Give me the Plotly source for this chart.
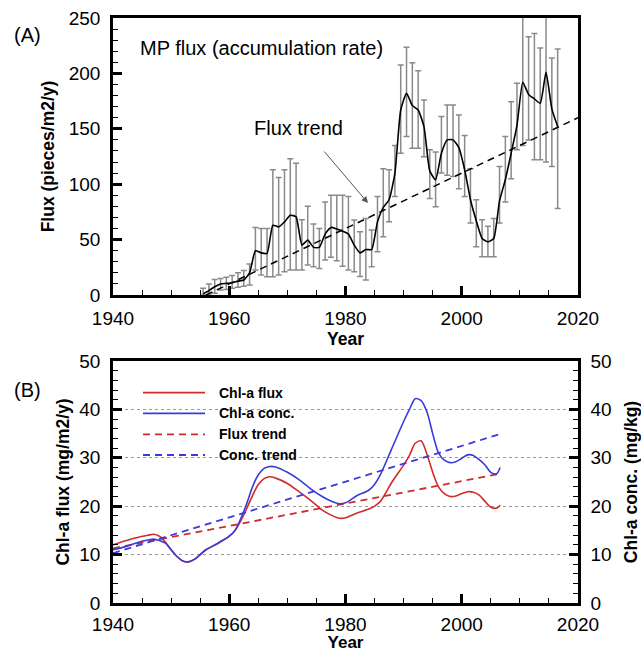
import plotly.graph_objects as go

# ---------------- Panel A data: MP flux ----------------
mp_year = [1955.5, 1956.5, 1957.5, 1958.5, 1959.5, 1960.5, 1961.5, 1962.5, 1963.5, 1964.5,
           1965.5, 1966.5, 1967.5, 1968.5, 1969.5, 1970.5, 1971.5, 1972.5, 1973.5, 1974.5,
           1975.5, 1976.5, 1977.5, 1978.5, 1979.5, 1980.5, 1981.5, 1982.5, 1983.5, 1984.5,
           1985.5, 1986.5, 1987.5, 1988.5, 1989.5, 1990.5, 1991.5, 1992.5, 1993.5, 1994.5,
           1995.5, 1996.5, 1997.5, 1998.5, 1999.5, 2000.5, 2001.5, 2002.5, 2003.5, 2004.5,
           2005.5, 2006.5, 2007.5, 2008.5, 2009.5, 2010.5, 2011.5, 2012.5, 2013.5, 2014.5,
           2015.5, 2016.5]
mp_flux = [1, 4, 7.5, 10, 10.5, 11, 12.5, 13.5, 20, 40,
           38, 37.5, 63, 61.5, 66, 72, 70.5, 45, 49.5, 43,
           43, 55, 61, 59.5, 57.5, 55, 45, 38, 41, 41,
           66, 79, 86, 110, 167, 182, 171, 167, 152, 112,
           104, 128, 140, 140, 133, 113, 86, 67, 51, 48,
           51, 85, 104, 128, 153, 192, 181, 177, 173, 201,
           168, 152]
mp_upper = [6, 10, 14, 15, 16, 17.5, 20, 22, 28, 61,
            60, 60, 113, 106, 113, 123, 119, 68, 80, 64,
            60, 84, 90, 90, 90, 89, 67.7, 57, 69, 58.7,
            89, 114, 113, 135, 207.6, 223.5, 209.7, 202.5, 176, 131,
            129, 161, 171.5, 171.5, 162.5, 144, 114, 86, 68, 62,
            69, 116, 143, 174.5, 191, 260, 233, 236, 223, 282,
            214, 222]
mp_lower = [0, 0, 1.5, 4.5, 5, 6, 7, 8, 9, 22.6,
            18, 16.5, 16.5, 18, 21, 22.6, 22.6, 22.6, 27, 25.6,
            24, 31.6, 34, 31, 26, 22.6, 21, 16.6, 13.5, 25.6,
            39, 52.6, 66, 89, 128, 143, 132.4, 132.4, 124.8, 87,
            79.7, 110, 108, 107, 96, 89, 65, 43.6, 34.6, 34.6,
            34.6, 65, 84, 105, 131, 135, 140, 122, 122, 120,
            116, 78]
mp_trend_year = [1956, 2020]
mp_trend = [0, 160]

# ---------------- Panel B data: Chl-a ----------------
chl_year = [1940, 1942, 1944, 1946, 1947, 1948, 1949, 1950, 1951, 1952,
            1953, 1954, 1955, 1956, 1958, 1960, 1961, 1962, 1963, 1964,
            1965, 1966, 1967, 1968, 1970, 1972, 1974, 1976, 1978, 1979,
            1980, 1982, 1984, 1985, 1986, 1988, 1990, 1991, 1992, 1993,
            1994, 1995, 1996, 1997, 1998, 1999, 2000, 2001, 2002, 2003,
            2004, 2005, 2006, 2006.6]
chl_flux = [12.0, 12.8, 13.5, 14.0, 14.2, 13.8, 12.6, 11.0, 9.6, 8.7,
            8.5, 9.0, 10.0, 11.0, 12.3, 13.8, 15.0, 17.0, 19.5, 22.2,
            24.5, 25.7, 26.1, 25.8, 24.7, 23.0, 21.2, 19.2, 17.9, 17.5,
            17.6, 18.6, 19.4, 20.0, 21.0, 25.0, 28.5, 30.5, 33.0, 33.5,
            30.8, 27.0, 24.0, 22.6, 22.0, 22.1, 22.6, 23.0, 22.9, 22.3,
            21.0, 19.8, 19.6, 20.2]
chl_conc = [11.0, 11.6, 12.4, 13.0, 13.2, 12.9, 12.4, 11.0, 9.6, 8.7,
            8.5, 9.0, 10.0, 11.0, 12.3, 13.8, 15.0, 17.5, 20.5, 24.0,
            26.5, 27.8, 28.2, 28.1, 27.0, 25.5, 23.6, 22.0, 20.8, 20.5,
            20.7, 22.2, 23.3, 24.5, 26.5, 32.0, 37.5, 40.0, 42.2, 41.8,
            39.5, 35.0, 31.0, 29.5, 29.0, 29.2, 29.9, 30.6, 30.5, 29.6,
            28.5, 27.0, 26.7, 28.0]
chl_trend_year = [1940, 2006.6]
flux_trend = [11.3, 26.7]
conc_trend = [10.3, 34.9]

x_ticks = [1940, 1960, 1980, 2000, 2020]
legend_labels = ["Chl-a flux", "Chl-a conc.", "Flux trend", "Conc. trend"]

RED = "#d22b2b"
BLUE = "#3b3bd9"
FONT = "Arial, Liberation Sans, Helvetica, sans-serif"
W, H = 641, 652

err_plus = [u - v for u, v in zip(mp_upper, mp_flux)]
err_minus = [v - l for v, l in zip(mp_flux, mp_lower)]

fig = go.Figure()

# Panel A
fig.add_trace(go.Scatter(
    x=mp_year, y=mp_flux, mode="lines", xaxis="x", yaxis="y",
    line=dict(color="black", width=1.6, shape="spline", smoothing=0.5),
    error_y=dict(type="data", symmetric=False, array=err_plus, arrayminus=err_minus,
                 color="#8a8a8a", thickness=1.5, width=3),
    showlegend=False))
fig.add_trace(go.Scatter(
    x=mp_trend_year, y=mp_trend, mode="lines", xaxis="x", yaxis="y",
    line=dict(color="black", width=1.5, dash="7px,5px"), showlegend=False))

# Panel B
fig.add_trace(go.Scatter(
    x=chl_year, y=chl_flux, mode="lines", xaxis="x2", yaxis="y2",
    line=dict(color=RED, width=1.6, shape="spline", smoothing=0.8),
    name=legend_labels[0], showlegend=False))
fig.add_trace(go.Scatter(
    x=chl_year, y=chl_conc, mode="lines", xaxis="x2", yaxis="y3",
    line=dict(color=BLUE, width=1.6, shape="spline", smoothing=0.8),
    name=legend_labels[1], showlegend=False))
fig.add_trace(go.Scatter(
    x=chl_trend_year, y=flux_trend, mode="lines", xaxis="x2", yaxis="y2",
    line=dict(color=RED, width=1.8, dash="7px,5px"),
    name=legend_labels[2], showlegend=False))
fig.add_trace(go.Scatter(
    x=chl_trend_year, y=conc_trend, mode="lines", xaxis="x2", yaxis="y3",
    line=dict(color=BLUE, width=1.8, dash="7px,5px"),
    name=legend_labels[3], showlegend=False))

tickfont = dict(family=FONT, size=19, color="black")
titlefont = dict(family=FONT, size=17.5, color="black", weight="bold")

xdom = [113 / W, 578 / W]
common_x = dict(range=[1940, 2020], tickvals=x_ticks, ticks="inside", ticklen=9, tickwidth=2.5,
                tickcolor="black", showline=True, linewidth=2.5, linecolor="black", mirror=True,
                showgrid=False, zeroline=False, tickfont=tickfont,
                automargin=False,
                minor=dict(dtick=5, ticks="inside", ticklen=5, tickwidth=1, tickcolor="black"))

fig.update_layout(
    width=W, height=H,
    margin=dict(l=0, r=0, t=0, b=0),
    paper_bgcolor="white", plot_bgcolor="white",
    font=dict(family=FONT, color="black"),
    xaxis=dict(domain=xdom, anchor="y", ticklabelstandoff=4,
               title=dict(text="<b>Year</b>", font=titlefont, standoff=3), **common_x),
    yaxis=dict(domain=[1 - 295 / H, 1 - 18 / H], anchor="x", range=[0, 250], dtick=50,
               ticks="inside", ticklen=9, tickwidth=2.5, tickcolor="black",
               showline=True, linewidth=2.5, linecolor="black", mirror=True,
               showgrid=False, zeroline=False, tickfont=tickfont, ticklabelstandoff=6,
               automargin=False,
               minor=dict(dtick=10, ticks="inside", ticklen=5, tickwidth=1, tickcolor="black"),
               title=dict(text="<b>Flux (pieces/m2/y)</b>", font=titlefont, standoff=10)),
    xaxis2=dict(domain=xdom, anchor="y2", ticklabelstandoff=2,
                title=dict(text="<b>Year</b>", font=dict(family=FONT, size=17, color="black",
                                                        weight="bold"), standoff=4),
                **common_x),
    yaxis2=dict(domain=[1 - 603 / H, 1 - 361 / H], anchor="x2", range=[0, 50], dtick=10,
                ticks="inside", ticklen=9, tickwidth=2.5, tickcolor="black",
                showline=True, linewidth=2.5, linecolor="black",
                showgrid=True, gridcolor="#9a9a9a", gridwidth=1, griddash="dot",
                zeroline=False, tickfont=tickfont, ticklabelstandoff=6,
                automargin=False,
                minor=dict(dtick=2, ticks="inside", ticklen=5, tickwidth=1, tickcolor="black"),
                title=dict(text="<b>Chl-a flux (mg/m2/y)</b>", font=titlefont, standoff=6)),
    yaxis3=dict(overlaying="y2", side="right", anchor="x2", range=[0, 50], dtick=10,
                ticks="inside", ticklen=9, tickwidth=2.5, tickcolor="black",
                showline=True, linewidth=2.5, linecolor="black",
                showgrid=False, zeroline=False, tickfont=tickfont, ticklabelstandoff=6,
                automargin=False,
                minor=dict(dtick=2, ticks="inside", ticklen=5, tickwidth=1, tickcolor="black"),
                title=dict(text="<b>Chl-a conc. (mg/kg)</b>", font=titlefont, standoff=16)),
)

annots = [
    dict(text="(A)", x=27 / W, y=1 - 35 / H, xref="paper", yref="paper",
         xanchor="center", yanchor="middle",
         showarrow=False, font=dict(family=FONT, size=20)),
    dict(text="(B)", x=27 / W, y=1 - 390 / H, xref="paper", yref="paper",
         xanchor="center", yanchor="middle",
         showarrow=False, font=dict(family=FONT, size=20)),
    dict(text="MP flux (accumulation rate)", x=138 / W, y=1 - 48 / H, xref="paper", yref="paper",
         xanchor="left", yanchor="middle", showarrow=False, font=dict(family=FONT, size=20)),
    dict(text="Flux trend", x=298 / W, y=1 - 128 / H, xref="paper", yref="paper",
         xanchor="center", yanchor="middle", showarrow=False, font=dict(family=FONT, size=20)),
    dict(text="", x=368 / W, y=1 - 203 / H, ax=-45, ay=-53,
         xref="paper", yref="paper", axref="pixel", ayref="pixel",
         showarrow=True, arrowhead=2, arrowsize=1.3, arrowwidth=1, arrowcolor="#555"),
]

# Custom legend for panel B
leg_colors = [RED, BLUE, RED, BLUE]
leg_dash = ["solid", "solid", "7px,5px", "7px,5px"]
leg_rows = [392.7, 413.3, 434.3, 455.0]
shapes = []
for lbl, c, d, ry in zip(legend_labels, leg_colors, leg_dash, leg_rows):
    shapes.append(dict(type="line", xref="paper", yref="paper",
                       x0=143 / W, x1=205 / W, y0=1 - ry / H, y1=1 - ry / H,
                       line=dict(color=c, width=1.8, dash=d)))
    annots.append(dict(text="<b>" + lbl + "</b>", x=217 / W, y=1 - ry / H, xref="paper", yref="paper",
                       xanchor="left", yanchor="middle", showarrow=False,
                       font=dict(family=FONT, size=14)))

fig.update_layout(annotations=annots, shapes=shapes)

fig.write_html("out.html", config={"displayModeBar": False},
               post_script="document.body.style.margin='0';document.body.style.padding='0';")
